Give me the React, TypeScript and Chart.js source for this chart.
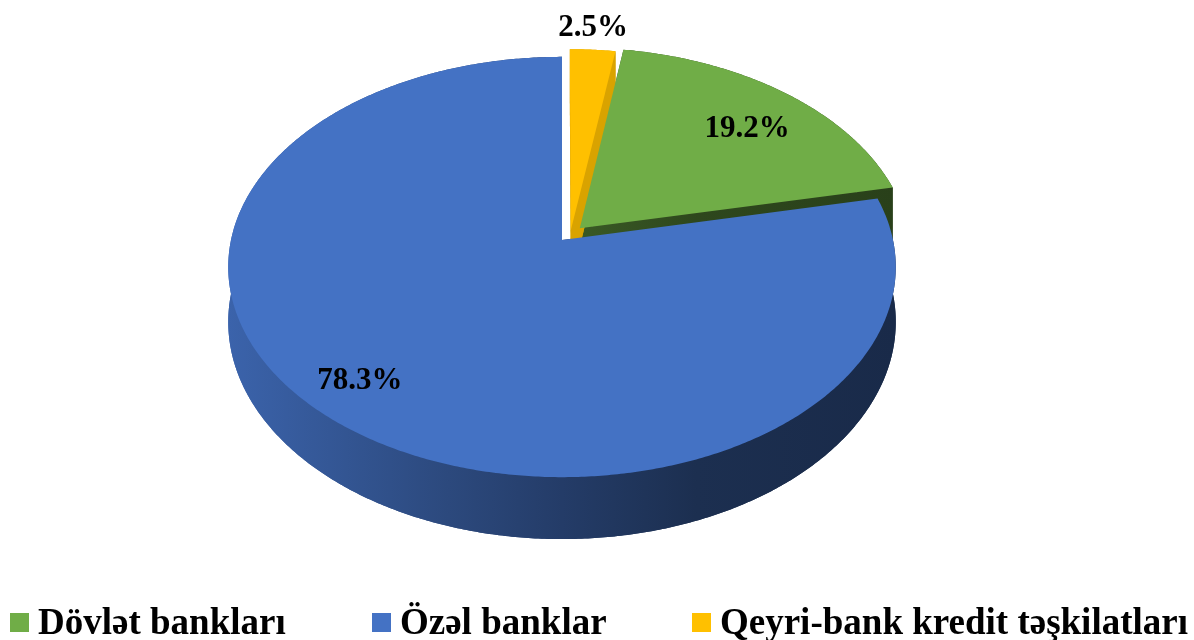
import React, { useEffect, useRef } from "react";
import { Chart, registerables } from "chart.js";

Chart.register(...registerables);

// ---- data ----
const categories = ["Dövlət bankları", "Özəl banklar", "Qeyri-bank kredit təşkilatları"];
const shares = [19.2, 78.3, 2.5];
const valueLabels = ["19.2%", "78.3%", "2.5%"];
const sliceColors = ["#70AD47", "#4472C4", "#FFC000"];
const explodeOffsets = [26, 0, 18];

// ---- styling / layout constants ----
const START_ROTATION = 9; // degrees clockwise from 12 o'clock
const PIE_RADIUS = 331;
const TILT = 0.6244; // vertical squash of the top face
const PERSPECTIVE = 0.1285; // far side shrinks
const DEPTH = 54; // thickness in px
const EXPLODE_DIR_SHIFT = [0, 0, 25]; // degrees, direction tweak of explosion
const LABEL_RADIUS = [0.755, 0.841, 1.137];
const LABEL_ANGLE_SHIFT = [2.8, 2.8, -0.4];
const SIDE_ORDER = [1, 0, 2];
const SIDE_FACTOR_FIXED: (number | null)[] = [null, null, 0.85];
const LEGEND_X = [10, 372, 692];
const FONT = "'Liberation Serif', 'Times New Roman', serif";

function shade(hex: string, f: number) {
  const n = parseInt(hex.slice(1), 16);
  const r = Math.round(((n >> 16) & 255) * f);
  const g = Math.round(((n >> 8) & 255) * f);
  const b = Math.round((n & 255) * f);
  return `rgb(${r},${g},${b})`;
}

const DEG = Math.PI / 180;

const pie3dPlugin = {
  id: "pie3d",
  beforeDatasetsDraw(chart: any) {
    const ctx: CanvasRenderingContext2D = chart.ctx;
    const meta = chart.getDatasetMeta(0);
    const arcs = meta.data as any[];
    if (!arcs.length) return false;
    const cx = arcs[0].x;
    const cy = arcs[0].y;
    const R = arcs[0].outerRadius;

    const proj = (u: number, v: number, z: number) => {
      const w = 1 + PERSPECTIVE * v;
      return [cx + (R * u) / w, cy + (-R * TILT * v + z * DEPTH) / w];
    };

    const geo = arcs.map((el: any, idx: number) => {
      const { startAngle, endAngle } = el.getProps(["startAngle", "endAngle"], true);
      const off = (el.options.offset || 0) / R;
      const mid = (startAngle + endAngle) / 2;
      const dir = mid + EXPLODE_DIR_SHIFT[idx] * DEG;
      const du = off * Math.cos(dir);
      const dv = -off * Math.sin(dir);
      const n = Math.max(2, Math.ceil((endAngle - startAngle) / (Math.PI / 360)));
      const rim = (z: number) => {
        const pts: number[][] = [];
        for (let i = 0; i <= n; i++) {
          const a = startAngle + ((endAngle - startAngle) * i) / n;
          pts.push(proj(du + Math.cos(a), dv - Math.sin(a), z));
        }
        return pts;
      };
      return {
        mid,
        du,
        dv,
        apexTop: proj(du, dv, 0),
        apexBot: proj(du, dv, 1),
        rimTop: rim(0),
        rimBot: rim(1),
      };
    });

    const poly = (pts: number[][], fill: any) => {
      ctx.beginPath();
      ctx.moveTo(pts[0][0], pts[0][1]);
      for (let i = 1; i < pts.length; i++) ctx.lineTo(pts[i][0], pts[i][1]);
      ctx.closePath();
      ctx.fillStyle = fill;
      ctx.fill();
    };

    ctx.save();
    // side faces
    for (const i of SIDE_ORDER) {
      const g = geo[i];
      const color = sliceColors[i];
      let fill: any;
      if (SIDE_FACTOR_FIXED[i] != null) {
        fill = shade(color, SIDE_FACTOR_FIXED[i] as number);
      } else {
        const grad = ctx.createLinearGradient(cx - R * 1.01, 0, cx + R * 1.01, 0);
        grad.addColorStop(0, shade(color, 0.87));
        grad.addColorStop(0.33, shade(color, 0.64));
        grad.addColorStop(0.5, shade(color, 0.53));
        grad.addColorStop(0.7, shade(color, 0.41));
        grad.addColorStop(1, shade(color, 0.37));
        fill = grad;
      }
      poly([g.apexBot, ...g.rimBot], fill);
      poly([g.apexTop, g.rimTop[0], g.rimBot[0], g.apexBot], fill);
      const last = g.rimTop.length - 1;
      poly([g.apexTop, g.rimTop[last], g.rimBot[last], g.apexBot], fill);
      poly([...g.rimTop, ...g.rimBot.slice().reverse()], fill);
    }
    // top faces
    geo.forEach((g: any, i: number) => {
      poly([g.apexTop, ...g.rimTop], sliceColors[i]);
    });

    // value labels
    ctx.fillStyle = "#000";
    ctx.font = `bold 31px ${FONT}`;
    ctx.textAlign = "center";
    ctx.textBaseline = "middle";
    geo.forEach((g: any, i: number) => {
      const r = LABEL_RADIUS[i];
      const a = g.mid + LABEL_ANGLE_SHIFT[i] * DEG;
      const p = proj(g.du + r * Math.cos(a), g.dv - r * Math.sin(a), 0);
      ctx.fillText(valueLabels[i], p[0], p[1]);
    });
    ctx.restore();
    return false;
  },
};

export default function App() {
  const canvasRef = useRef<HTMLCanvasElement | null>(null);

  useEffect(() => {
    const canvas = canvasRef.current;
    if (!canvas) return;
    const chart = new Chart(canvas, {
      type: "pie",
      data: {
        labels: categories,
        datasets: [
          {
            data: shares,
            backgroundColor: sliceColors,
            offset: explodeOffsets,
            borderWidth: 0,
            clip: false,
          } as any,
        ],
      },
      options: {
        animation: false,
        responsive: false,
        events: [],
        rotation: START_ROTATION,
        radius: PIE_RADIUS,
        layout: { padding: { left: 0, top: 0, right: 70, bottom: 160 } },
        plugins: {
          legend: { display: false },
          tooltip: { enabled: false },
        },
      } as any,
      plugins: [pie3dPlugin as any],
    });
    return () => chart.destroy();
  }, []);

  return (
    <div
      style={{
        position: "fixed",
        left: 0,
        top: 0,
        width: 1194,
        height: 640,
        background: "#fff",
        overflow: "hidden",
      }}
    >
      <canvas
        ref={canvasRef}
        width={1194}
        height={640}
        style={{ position: "absolute", left: 0, top: 0, width: 1194, height: 640 }}
      />
      {categories.map((c, i) => (
        <div
          key={c}
          style={{
            position: "absolute",
            left: LEGEND_X[i],
            top: 604,
            height: 36,
            display: "flex",
            alignItems: "center",
            font: `bold 37px ${FONT}`,
            lineHeight: "36px",
            whiteSpace: "nowrap",
            color: "#000",
          }}
        >
          <span
            style={{
              display: "inline-block",
              width: 19,
              height: 19,
              background: sliceColors[i],
              marginRight: 9,
              marginTop: 1,
            }}
          />
          <span>{c}</span>
        </div>
      ))}
    </div>
  );
}
